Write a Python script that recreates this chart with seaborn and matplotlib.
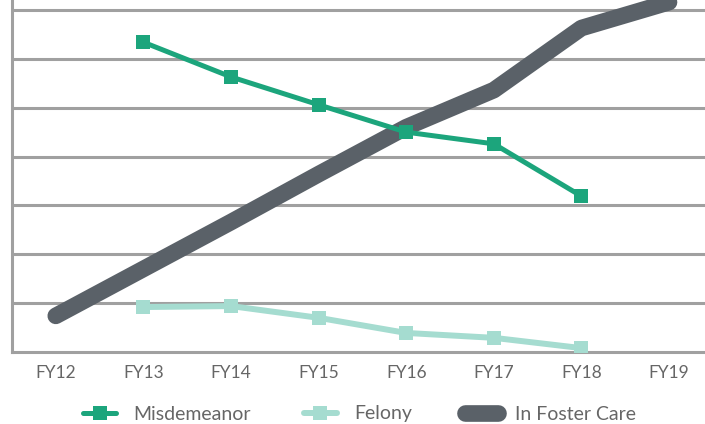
import pandas as pd
import matplotlib
matplotlib.use("Agg")
import matplotlib.pyplot as plt
import seaborn as sns
from matplotlib.lines import Line2D

# fiscal years on the x axis
years = ["FY12", "FY13", "FY14", "FY15", "FY16", "FY17", "FY18", "FY19"]
# values in gridline units (no y labels on the original)
misdemeanor = [None, 6.34, 5.63, 5.06, 4.50, 4.26, 3.19, None]
felony = [None, 0.92, 0.94, 0.70, 0.39, 0.29, 0.08, None]
foster_care = [0.74, 1.70, 2.66, 3.64, 4.60, 5.36, 6.63, 7.16]

C_MIS = "#1ca57c"
C_FEL = "#a5dcd0"
C_FOS = "#5a6168"
C_GRID = "#a0a0a0"
C_TEXT = "#666666"

sns.set_style("white")
plt.rcParams["font.family"] = ["Lato", "DejaVu Sans"]

df = pd.DataFrame({"year": years, "x": range(len(years)),
                   "Misdemeanor": misdemeanor, "Felony": felony,
                   "In Foster Care": foster_care})

fig = plt.figure(figsize=(7.05, 4.24), dpi=100)
ax = fig.add_axes([12 / 705, 72 / 424, 693 / 705, 352 / 424])

band = 693 / 87.6
ax.set_xlim(-0.5, -0.5 + band)
ax.set_ylim(0, 352 / 48.86)

for lvl in range(1, 8):
    ax.axhline(lvl, color=C_GRID, lw=2.2, zorder=1)

sns.lineplot(data=df, x="x", y="In Foster Care", ax=ax, color=C_FOS,
             lw=12, solid_capstyle="round", zorder=3)
sns.lineplot(data=df.dropna(subset=["Felony"]), x="x", y="Felony", ax=ax,
             color=C_FEL, lw=4.3, marker="s", markersize=10,
             markeredgewidth=0, zorder=4)
sns.lineplot(data=df.dropna(subset=["Misdemeanor"]), x="x", y="Misdemeanor",
             ax=ax, color=C_MIS, lw=3.6, marker="s", markersize=9.5,
             markeredgewidth=0, zorder=5)

for s in ["top", "right"]:
    ax.spines[s].set_visible(False)
for s in ["left", "bottom"]:
    ax.spines[s].set_color(C_GRID)
    ax.spines[s].set_linewidth(2.2)

ax.set_xticks(df["x"])
ax.set_xticklabels(years)
ax.set_xticks([i + 0.5 for i in range(len(years) - 1)], minor=True)
ax.tick_params(axis="x", which="major", length=0, pad=9,
               labelsize=12.5, labelcolor=C_TEXT)
ax.tick_params(axis="x", which="minor", direction="in", length=8,
               width=2.2, color=C_GRID)
ax.set_yticks([])
ax.set_xlabel("")
ax.set_ylabel("")

handles = [
    Line2D([], [], color=C_MIS, lw=3.6, marker="s", markersize=9.5, markeredgewidth=0),
    Line2D([], [], color=C_FEL, lw=4.3, marker="s", markersize=10, markeredgewidth=0),
    Line2D([], [], color=C_FOS, lw=12, solid_capstyle="round"),
]
fig.legend(handles, ["Misdemeanor", "Felony", "In Foster Care"],
           loc="center", bbox_to_anchor=(0.51, 10 / 424), ncol=3,
           frameon=False, numpoints=1, handlelength=1.7,
           handletextpad=0.9, columnspacing=2.7,
           prop={"size": 14}, labelcolor=C_TEXT)

fig.savefig("out.png", dpi=100)
